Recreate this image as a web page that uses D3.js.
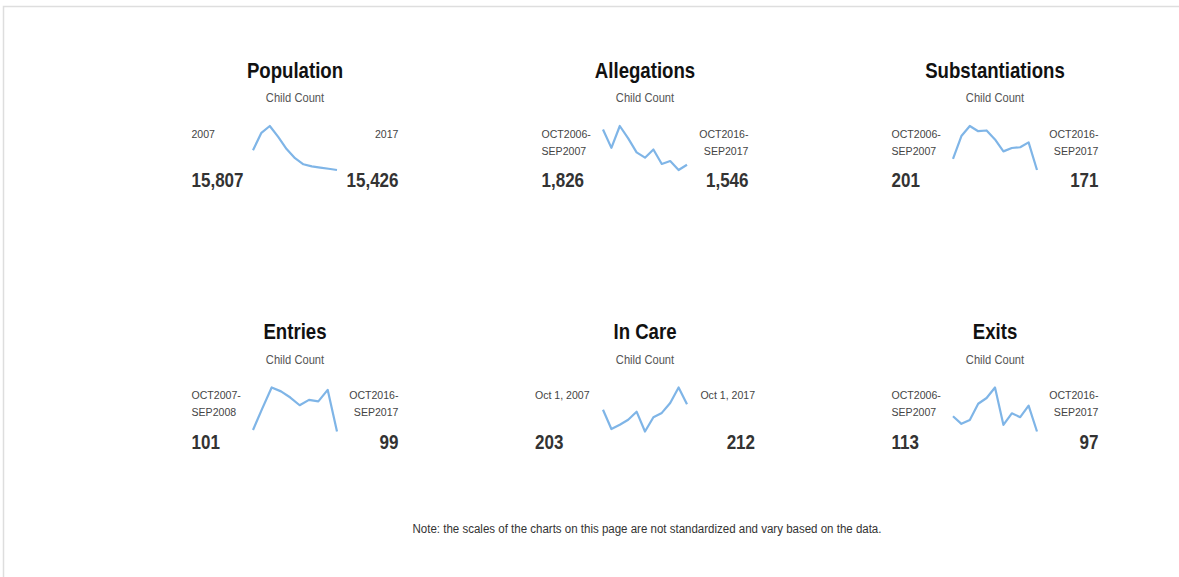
<!DOCTYPE html>
<html>
<head>
<meta charset="utf-8">
<script src="https://cdnjs.cloudflare.com/ajax/libs/d3/7.8.5/d3.min.js"></script>
<style>
  html, body { margin: 0; padding: 0; background: #fff; }
  svg text { font-family: "Liberation Sans", Arial, sans-serif; }
</style>
</head>
<body>
<div id="chart"></div>
<script>
// panel texts
var panelTitles = ["Population", "Allegations", "Substantiations", "Entries", "In Care", "Exits"];
var subtitle = "Child Count";
var startLabels = [["2007"], ["OCT2006-", "SEP2007"], ["OCT2006-", "SEP2007"],
                   ["OCT2007-", "SEP2008"], ["Oct 1, 2007"], ["OCT2006-", "SEP2007"]];
var endLabels = [["2017"], ["OCT2016-", "SEP2017"], ["OCT2016-", "SEP2017"],
                 ["OCT2016-", "SEP2017"], ["Oct 1, 2017"], ["OCT2016-", "SEP2017"]];

var population = [15807, 16143, 16274, 16064, 15830, 15653, 15536, 15496, 15473, 15450, 15426];
var allegations = [1826, 1680, 1854, 1756, 1644, 1602, 1667, 1552, 1575, 1504, 1546];
var substantiations = [201, 262, 289, 275, 277, 253, 221, 230, 232, 245, 171];
var entries = [101, 129, 156, 151, 143, 133, 140, 138, 153, 99];
var inCare = [203, 172, 179, 187, 200, 168, 191, 198, 214, 239, 212];
var exits = [113, 105, 109, 126, 132, 143, 104, 116, 112, 124, 97];

var noteText = "Note: the scales of the charts on this page are not standardized and vary based on the data.";

var seriesList = [population, allegations, substantiations, entries, inCare, exits];

var width = 1179, height = 577;

// the original font is a narrow one, so squeeze text horizontally
function squeezedText(parent, x, y, anchor, sx) {
    return parent.append("text")
        .attr("transform", "translate(" + x + "," + y + ") scale(" + sx + ",1)")
        .attr("text-anchor", anchor);
}

var SparkPanel = function () {
    var centerX = 0;
    var topY = 0;
    var halfWidth = 103.5;
    var sparkHalfWidth = 42;
    var lineColor = "#7fb5e7";
    var fmt = d3.format(",");

    function my(selection) {
        selection.each(function (d) {
            var g = d3.select(this);

            squeezedText(g, centerX, topY + 77.5, "middle", 0.81)
                .style("font-size", "23px").style("font-weight", "bold")
                .style("fill", "#111")
                .text(d.title);

            squeezedText(g, centerX, topY + 102.3, "middle", 0.93)
                .style("font-size", "12px").style("fill", "#555")
                .text(subtitle);

            // period labels, one or two lines
            [["start", centerX - halfWidth, d.startLabel], ["end", centerX + halfWidth, d.endLabel]]
                .forEach(function (side) {
                    side[2].forEach(function (t, i) {
                        squeezedText(g, side[1], topY + 137.5 + i * 17, side[0], 0.92)
                            .style("font-size", "11.5px").style("fill", "#444")
                            .text(t);
                    });
                });

            squeezedText(g, centerX - halfWidth, topY + 187.3, "start", 0.81)
                .style("font-size", "21px").style("font-weight", "bold").style("fill", "#333")
                .text(fmt(d.values[0]));

            squeezedText(g, centerX + halfWidth, topY + 187.3, "end", 0.81)
                .style("font-size", "21px").style("font-weight", "bold").style("fill", "#333")
                .text(fmt(d.values[d.values.length - 1]));

            var x = d3.scaleLinear()
                .domain([0, d.values.length - 1])
                .range([centerX - sparkHalfWidth, centerX + sparkHalfWidth]);
            var y = d3.scaleLinear()
                .domain(d3.extent(d.values))
                .range([topY + 170, topY + 126]);

            var line = d3.line()
                .x(function (v, i) { return x(i); })
                .y(function (v) { return y(v); });

            g.append("path")
                .datum(d.values)
                .attr("d", line)
                .attr("fill", "none")
                .attr("stroke", lineColor)
                .attr("stroke-width", 2.2)
                .attr("stroke-linejoin", "round");
        });
    }

    my.centerX = function (value) {
        if (!arguments.length) return centerX;
        centerX = value;
        return my;
    };

    my.topY = function (value) {
        if (!arguments.length) return topY;
        topY = value;
        return my;
    };

    my.halfWidth = function (value) {
        if (!arguments.length) return halfWidth;
        halfWidth = value;
        return my;
    };

    return my;
};

var svg = d3.select("#chart").append("svg")
    .attr("width", width)
    .attr("height", height);

// page frame, cut off on the right and bottom
svg.append("rect")
    .attr("x", 3.5).attr("y", 6.5)
    .attr("width", width + 20).attr("height", height + 20)
    .attr("fill", "none")
    .attr("stroke", "#dedede")
    .attr("stroke-width", 1.5);

var panels = panelTitles.map(function (t, i) {
    return { title: t, startLabel: startLabels[i], endLabel: endLabels[i], values: seriesList[i] };
});

panels.forEach(function (p, i) {
    var col = i % 3, row = Math.floor(i / 3);
    svg.append("g")
        .datum(p)
        .call(SparkPanel()
            .centerX(295 + col * 350)
            .topY(row * 261.5)
            .halfWidth(p.title === "In Care" ? 110 : 103.5));
});

squeezedText(svg, 647, 533, "middle", 0.96)
    .style("font-size", "12px").style("fill", "#333")
    .text(noteText);
</script>
</body>
</html>
